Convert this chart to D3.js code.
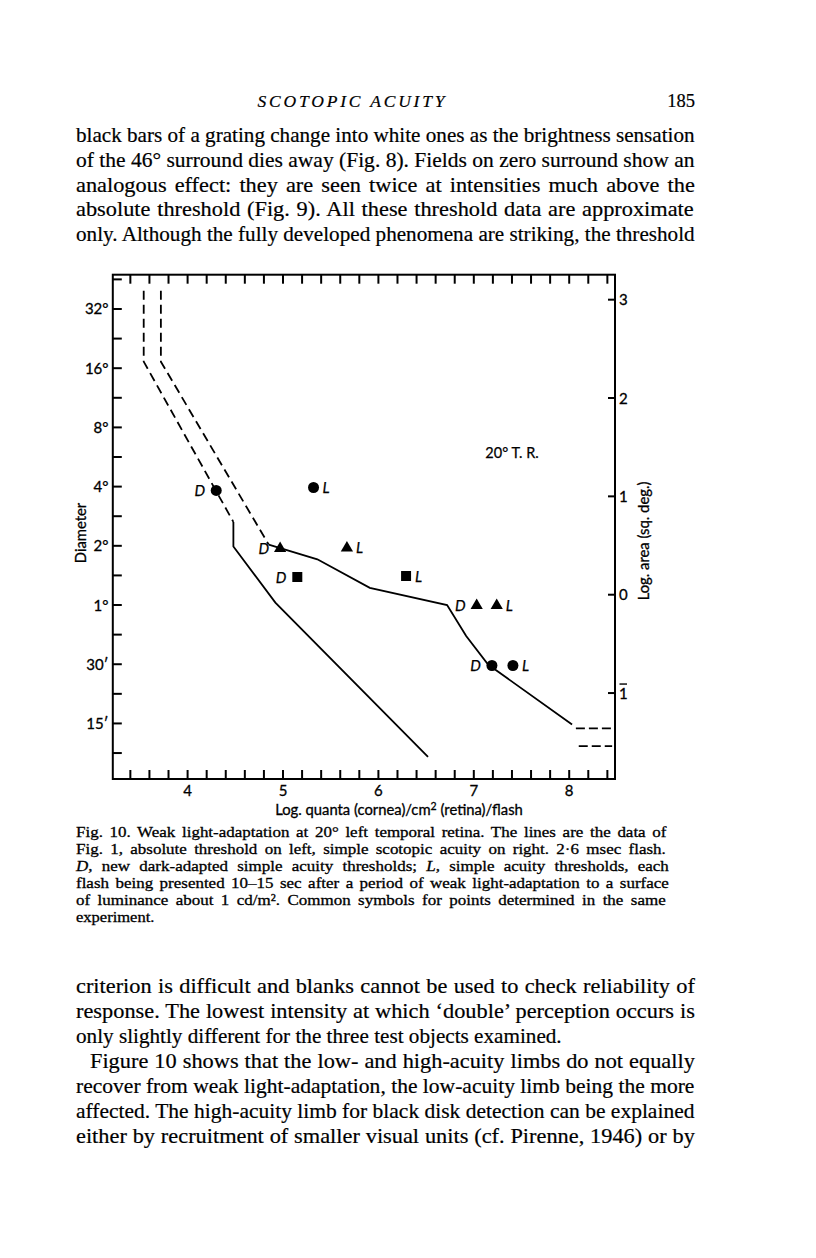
<!DOCTYPE html>
<html><head><meta charset="utf-8">
<script src="https://cdn.jsdelivr.net/npm/d3@7"></script>
<style>html,body{margin:0;padding:0;background:#fff}</style>
</head><body>
<script>
// ---------- data ----------
// x: log quanta (cornea)/cm^2 (retina)/flash ; y: log area (sq. deg.)
const absDashX = [3.54, 3.54, 4.48];
const absDashY = [3.09, 2.37, 0.74];
const absSolidX = [4.48, 4.48, 4.92, 6.52];
const absSolidY = [0.74, 0.49, -0.08, -1.65];
const acuDashX = [3.72, 3.72, 4.85];
const acuDashY = [3.09, 2.37, 0.51];
const acuSolidX = [4.85, 5.36, 5.91, 6.72, 6.92, 7.15, 8.03];
const acuSolidY = [0.51, 0.36, 0.07, -0.105, -0.42, -0.71, -1.32];
const extUpperX = [8.07, 8.48], extUpperY = [-1.36, -1.36];
const extLowerX = [8.10, 8.45], extLowerY = [-1.54, -1.54];

const ptX = [4.30, 5.32, 4.97, 5.67, 5.15, 6.29, 7.03, 7.24, 7.19, 7.41];
const ptY = [1.06, 1.09, 0.47, 0.475, 0.18, 0.19, -0.11, -0.11, -0.72, -0.72];
const ptShape = ["circle","circle","triangle","triangle","square","square","triangle","triangle","circle","circle"];
const ptCond = ["D","L","D","L","D","L","D","L","D","L"];

const xTickLabels = [4, 5, 6, 7, 8];
const xMinorTicks = d3.range(3.4, 8.41, 0.2);
const diamTicks = [32, 16, 8, 4, 2, 1, 0.5, 0.25];
const diamLabels = ["32°", "16°", "8°", "4°", "2°", "1°", "30′", "15′"];
const diamMinor = d3.range(-2.5, 5.6, 1).map(k => Math.pow(2, k));
const areaTicks = [3, 2, 1, 0, -1];
const areaLabels = ["3", "2", "1", "0", "1"];

const headerTitle = "SCOTOPIC ACUITY";
const pageNumber = "185";
const topLines = [
 "black bars of a grating change into white ones as the brightness sensation",
 "of the 46° surround dies away (Fig. 8). Fields on zero surround show an",
 "analogous effect: they are seen twice at intensities much above the",
 "absolute threshold (Fig. 9).  All these threshold data are approximate",
 "only.  Although the fully developed phenomena are striking, the threshold"
];
const captionLines = [
 [["Fig. 10.  Weak light-adaptation at 20° left temporal retina. The lines are the data of", false]],
 [["Fig. 1, absolute threshold on left, simple scotopic acuity on right.  2·6 msec flash.", false]],
 [["D", true], [", new dark-adapted simple acuity thresholds; ", false], ["L", true], [", simple acuity thresholds, each", false]],
 [["flash being presented 10–15 sec after a period of weak light-adaptation to a surface", false]],
 [["of luminance about 1 cd/m².  Common symbols for points determined in the same", false]],
 [["experiment.", false]]
];
const bottomLines = [
 "criterion is difficult and blanks cannot be used to check reliability of",
 "response. The lowest intensity at which ‘double’ perception occurs is",
 "only slightly different for the three test objects examined.",
 "Figure 10 shows that the low- and high-acuity limbs do not equally",
 "recover from weak light-adaptation, the low-acuity limb being the more",
 "affected.  The high-acuity limb for black disk detection can be explained",
 "either by recruitment of smaller visual units (cf. Pirenne, 1946) or by"
];

// ---------- drawing ----------
const W = 816, H = 1258;
const svg = d3.select("body").append("svg").attr("width", W).attr("height", H)
  .style("background", "#fff");

const serif = "'Liberation Serif', 'DejaVu Serif', serif";
const sans = "Lato, 'Open Sans', 'DejaVu Sans', sans-serif";

// justify: stretch glyphs a bit (wider face) and put the rest in word spaces
function justify(t, target, maxStretch) {
  const nat = t.node().getComputedTextLength();
  const spaces = (t.text().match(/ /g) || []).length;
  const stretch = target ? Math.min(target / nat, maxStretch) : maxStretch;
  const glyphW = nat * stretch;
  const x0 = +t.attr("x");
  t.attr("transform", `translate(${x0},0) scale(${stretch},1) translate(${-x0},0)`);
  if (target && spaces > 0 && target > glyphW) {
    const ws = (target - glyphW) / spaces / stretch;
    t.attr("word-spacing", ws);
    t.selectAll("tspan").attr("word-spacing", ws);
  }
}
function heavy(t, w) { return t.attr("stroke", "#000").attr("stroke-width", w); }

// header
heavy(svg.append("text").attr("x", 351).attr("y", 107).attr("text-anchor", "middle")
  .attr("font-family", serif).attr("font-style", "italic").attr("font-size", 17.5)
  .attr("textLength", 187).attr("lengthAdjust", "spacing").text(headerTitle), 0.2);
heavy(svg.append("text").attr("x", 695).attr("y", 107).attr("text-anchor", "end")
  .attr("font-family", serif).attr("font-size", 18.5).text(pageNumber), 0.2);

function para(lines, y0, dy, freeIdx, indentIdx) {
  lines.forEach((s, i) => {
    const ind = indentIdx.includes(i) ? 14 : 0;
    const t = svg.append("text").attr("x", 76 + ind).attr("y", y0 + i * dy)
      .attr("font-family", serif).attr("font-size", 20.5).text(s);
    heavy(t, 0.2);
    if (!freeIdx.includes(i)) justify(t, 619 - ind, 1.09);
    else justify(t, 486, 1.09);
  });
}
para(topLines, 142, 24.8, [], []);
para(bottomLines, 993, 25, [2], [3]);

// caption
captionLines.forEach((parts, i) => {
  const t = svg.append("text").attr("x", 76).attr("y", 837 + i * 17)
    .attr("font-family", serif).attr("font-size", 15.3);
  heavy(t, 0.3);
  parts.forEach(p => t.append("tspan").attr("font-style", p[1] ? "italic" : null).text(p[0]));
  if (i < captionLines.length - 1) justify(t, 593, 1.11);
  else justify(t, null, 1.08);
});

// chart
const L0 = 112.8, R0 = 615, T0 = 274.7, B0 = 779;
const x = d3.scaleLinear().domain([3.216, 8.48]).range([L0, R0]);
const y = d3.scaleLinear().domain([-1.874, 3.254]).range([B0, T0]);
const logQ = Math.log10(Math.PI / 4);
const dToL = d => logQ + 2 * Math.log10(d);

const g = svg.append("g");
const tickW = 2;
const fs = 15;
xMinorTicks.forEach(v => {
  g.append("line").attr("x1", x(v)).attr("x2", x(v)).attr("y1", B0).attr("y2", B0 - 9)
    .attr("stroke", "#000").attr("stroke-width", tickW);
  g.append("line").attr("x1", x(v)).attr("x2", x(v)).attr("y1", T0).attr("y2", T0 + 9)
    .attr("stroke", "#000").attr("stroke-width", tickW);
});
xTickLabels.forEach(v => {
  heavy(g.append("text").attr("x", x(v)).attr("y", 796).attr("text-anchor", "middle")
    .attr("font-family", sans).attr("font-size", fs).text(v), 0.3);
});
diamTicks.concat(diamMinor).forEach(d => {
  const yy = y(dToL(d));
  g.append("line").attr("x1", L0).attr("x2", L0 + 9).attr("y1", yy).attr("y2", yy)
    .attr("stroke", "#000").attr("stroke-width", tickW);
});
diamTicks.forEach((d, i) => {
  heavy(g.append("text").attr("x", 108.5).attr("y", y(dToL(d)) + 5.5).attr("text-anchor", "end")
    .attr("font-family", sans).attr("font-size", fs).text(diamLabels[i]), 0.3);
});
areaTicks.forEach((v, i) => {
  const yy = y(v);
  g.append("line").attr("x1", R0).attr("x2", R0 - 7).attr("y1", yy).attr("y2", yy)
    .attr("stroke", "#000").attr("stroke-width", tickW);
  heavy(g.append("text").attr("x", 619).attr("y", yy + 5.5).attr("font-family", sans)
    .attr("font-size", fs).text(areaLabels[i]), 0.3);
  if (v < 0) g.append("line").attr("x1", 619.5).attr("x2", 627)
    .attr("y1", yy - 9).attr("y2", yy - 9).attr("stroke", "#000").attr("stroke-width", 1.4);
});
g.append("rect").attr("x", L0).attr("y", T0).attr("width", R0 - L0).attr("height", B0 - T0)
  .attr("fill", "none").attr("stroke", "#000").attr("stroke-width", 2);

heavy(g.append("text").attr("x", 399).attr("y", 815).attr("text-anchor", "middle")
  .attr("font-family", sans).attr("font-size", 14.8)
  .html("Log. quanta (cornea)/cm<tspan font-size='10.5' dy='-5'>2</tspan><tspan dy='5'> (retina)/flash</tspan>"), 0.3);
heavy(g.append("text").attr("transform", "translate(85.5,533) rotate(-90)").attr("text-anchor", "middle")
  .attr("font-family", sans).attr("font-size", 14.8).text("Diameter"), 0.3);
heavy(g.append("text").attr("transform", "translate(649,541) rotate(-90)").attr("text-anchor", "middle")
  .attr("font-family", sans).attr("font-size", 14.8).text("Log. area (sq. deg.)"), 0.3);
heavy(g.append("text").attr("x", 512).attr("y", 458).attr("text-anchor", "middle")
  .attr("font-family", sans).attr("font-size", 14.5).text("20° T. R."), 0.25);

const line = d3.line().x(d => x(d[0])).y(d => y(d[1]));
function draw(xs, ys, dash) {
  g.append("path").attr("d", line(xs.map((v, i) => [v, ys[i]])))
    .attr("fill", "none").attr("stroke", "#000").attr("stroke-width", 1.8)
    .attr("stroke-dasharray", dash || null);
}
draw(absDashX, absDashY, "9,5");
draw(absSolidX, absSolidY);
draw(acuDashX, acuDashY, "9,5");
draw(acuSolidX, acuSolidY);
draw(extUpperX, extUpperY, "9,4");
draw(extLowerX, extLowerY, "9,4");

const symType = { circle: d3.symbolCircle, triangle: d3.symbolTriangle, square: d3.symbolSquare };
const symSize = { circle: 95, triangle: 65, square: 100 };
ptX.forEach((v, i) => {
  const px = x(v), py = y(ptY[i]);
  g.append("path").attr("transform", `translate(${px},${py})`)
    .attr("d", d3.symbol().type(symType[ptShape[i]]).size(symSize[ptShape[i]])())
    .attr("fill", "#000");
  const isD = ptCond[i] === "D";
  heavy(g.append("text").attr("x", isD ? px - 11 : px + 9).attr("y", py + 5.5)
    .attr("text-anchor", isD ? "end" : "start").attr("font-family", sans)
    .attr("font-style", "italic").attr("font-size", 15).text(ptCond[i]), 0.25);
});
</script>
</body></html>
